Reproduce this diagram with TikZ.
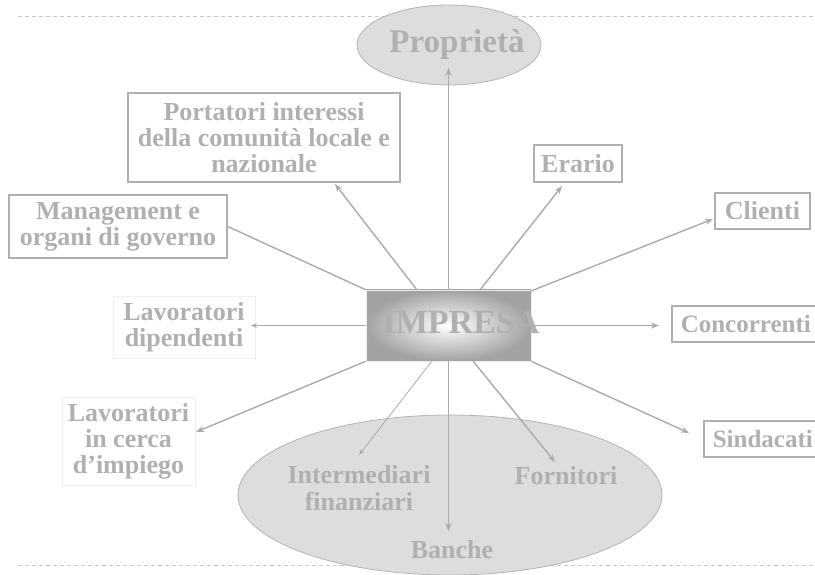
\documentclass[tikz,border=0pt]{standalone}
\usepackage{fontspec}
\setmainfont{Liberation Serif}
\usetikzlibrary{arrows.meta,shapes.geometric}
\definecolor{txt}{HTML}{B0B0B0}
\definecolor{bord}{HTML}{B0B0B0}
\definecolor{ln}{HTML}{ABABAB}
\definecolor{dashc}{HTML}{C8C8C8}
\definecolor{ellfill}{HTML}{DDDDDD}
\definecolor{ellbord}{HTML}{B4B4B4}
\definecolor{faint}{HTML}{EEEEEE}
\definecolor{impedge}{HTML}{A2A2A2}
\begin{document}
\begin{tikzpicture}[x=1pt,y=-1pt]
\tikzset{
  lbl/.style={font=\fontsize{26}{26}\selectfont\bfseries, text=txt, align=center, inner sep=0pt},
  stbox/.style={lbl, rectangle, draw=bord, line width=1.5pt},
  fbox/.style={lbl, rectangle, draw=faint, line width=1pt},
  sep/.style={draw=dashc, line width=1pt, dash pattern=on 4pt off 3pt},
  conn/.style={draw=ln, line width=1.4pt, -{Stealth[length=8pt,width=6pt]}},
  thin/.style={draw=ln, line width=0.8pt, -{Stealth[length=6pt,width=4.5pt]}},
  ell/.style={ellipse, fill=ellfill, draw=ellbord, line width=0.8pt, inner sep=0pt}
}
\useasboundingbox (0,0) rectangle (815,575);
\clip (0,0) rectangle (815,575);
% title fragment
\node[font=\fontsize{30}{30}\selectfont\bfseries, text=txt, anchor=base, inner sep=0pt] (title) at (108,-6) {gg};
% separators
\coordinate (s1a) at (18,17); \coordinate (s1b) at (815,17);
\coordinate (s2a) at (18,565); \coordinate (s2b) at (815,565);
\draw[sep] (s1a) -- (s1b);
\draw[sep] (s2a) -- (s2b);
% ellipses
\node[ell, minimum width=184pt, minimum height=80pt] (propr) at (449,45) {};
\node[lbl, font=\fontsize{33}{35}\selectfont\bfseries, anchor=base] (proprtxt) at (457,53) {Proprietà};
\node[ell, minimum width=424pt, minimum height=160pt] (bottom) at (450,495) {};
\node[lbl, font=\fontsize{26}{27}\selectfont\bfseries, anchor=base] (interm) at (359,510) {Intermediari\\finanziari};
\node[lbl, anchor=base] (fornit) at (566,484) {Fornitori};
\node[lbl, anchor=base] (banche) at (452,558) {Banche};
% boxes
\node[stbox, minimum width=272pt, minimum height=89pt] (port) at (264,137.5) {Portatori interessi\\della comunità locale e\\nazionale};
\node[stbox, minimum width=88pt, minimum height=37pt] (erario) at (578,163.5) {Erario};
\node[stbox, minimum width=95pt, minimum height=36pt] (clienti) at (762.5,211) {Clienti};
\node[stbox, minimum width=218pt, minimum height=63pt] (mgmt) at (118,226.5) {Management e\\organi di governo};
\node[fbox, minimum width=142pt, minimum height=62pt] (lavdip) at (184,327) {Lavoratori\\dipendenti};
\node[fbox, minimum width=133pt, minimum height=88pt] (lavcerca) at (128.5,441) {Lavoratori\\in cerca\\d’impiego};
\node[stbox, font=\fontsize{25}{25}\selectfont\bfseries, anchor=west, inner xsep=9pt, minimum height=36pt] (conc) at (671,324) {Concorrenti};
\node[stbox, font=\fontsize{25}{25}\selectfont\bfseries, anchor=west, inner xsep=9pt, minimum height=36pt] (sind) at (703,439) {Sindacati};
% connector coordinates
\coordinate (tPropr) at (448.5,68);
\coordinate (sPort) at (417,290); \coordinate (tPort) at (335,184);
\coordinate (sErario) at (480,290); \coordinate (tErario) at (562,186);
\coordinate (tLavdip) at (251,325.5);
\coordinate (tLavcerca) at (196,432);
\coordinate (sClienti) at (531,291); \coordinate (tClienti) at (713,219);
\coordinate (tConc) at (659,325.5);
\coordinate (tSind) at (689,433);
\coordinate (sInterm) at (432,361); \coordinate (tInterm) at (359,455);
\coordinate (tBanche) at (448.5,531);
\coordinate (sFornit) at (473,361); \coordinate (tFornit) at (555,462);
% IMPRESA
\node[rectangle, minimum width=165pt, minimum height=71pt, inner sep=0pt, inner color=white, outer color=impedge, draw=faint, line width=0.6pt] (imp) at (448.5,325.5) {};
% connectors
\draw[conn] (imp.north) -- (tPropr);
\draw[conn] (sPort) -- (tPort);
\draw[conn] (sErario) -- (tErario);
\draw[draw=ln, line width=1.4pt] (mgmt.east) -- (imp.north west);
\draw[thin] (imp.west) -- (tLavdip);
\draw[conn] (imp.south west) -- (tLavcerca);
\draw[conn] (sClienti) -- (tClienti);
\draw[conn] (imp.east) -- (tConc);
\draw[conn] (imp.south east) -- (tSind);
\draw[thin] (sInterm) -- (tInterm);
\draw[conn] (imp.south) -- (tBanche);
\draw[conn] (sFornit) -- (tFornit);
\node[lbl, font=\fontsize{34}{36}\selectfont\bfseries, anchor=base] (imptxt) at (461,333) {IMPRESA};
\end{tikzpicture}
\end{document}
